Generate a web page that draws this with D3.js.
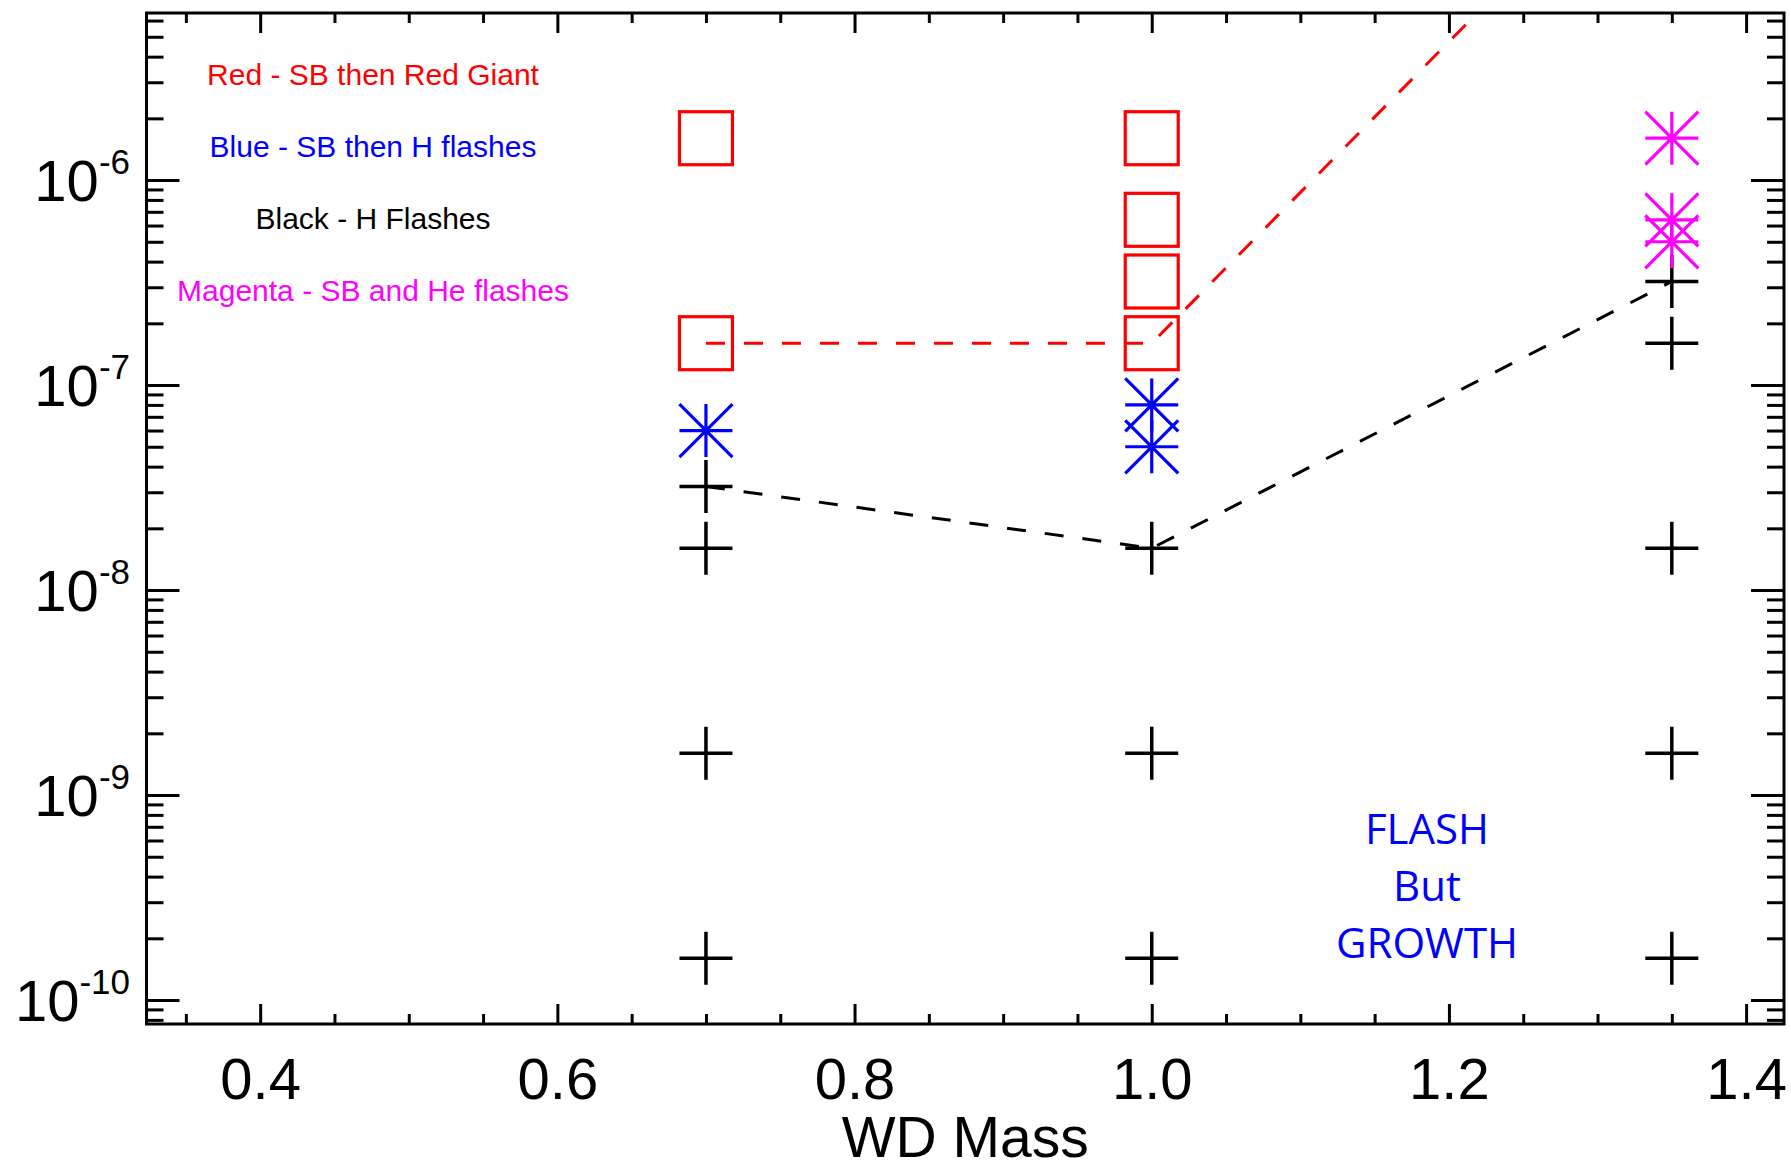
<!DOCTYPE html>
<html>
<head>
<meta charset="utf-8">
<script src="https://cdn.jsdelivr.net/npm/d3@7"></script>
<style>
  html, body { margin: 0; padding: 0; background: #fff; }
  svg { display: block; }
  .tick line { stroke: #000; stroke-width: 3; }
  .domain { display: none; }
</style>
</head>
<body>
<svg id="chart" width="1791" height="1169"></svg>
<script>
// ---- axis ticks ----
const xTickValues = [0.4, 0.6, 0.8, 1.0, 1.2, 1.4];
const xTickLabels = ["0.4", "0.6", "0.8", "1.0", "1.2", "1.4"];
const yTickExponents = [-10, -9, -8, -7, -6];
const yTickLabels = ["-10", "-9", "-8", "-7", "-6"];

// ---- red squares: SB then Red Giant ----
const redMass = [0.7, 0.7, 1.0, 1.0, 1.0, 1.0];
const redRate = [1.6e-7, 1.6e-6, 1.6e-7, 3.2e-7, 6.4e-7, 1.6e-6];

// ---- blue asterisks: SB then H flashes ----
const blueMass = [0.7, 1.0, 1.0];
const blueRate = [6.0e-8, 5.0e-8, 8.0e-8];

// ---- black pluses: H flashes ----
const blackMass = [0.7, 0.7, 0.7, 0.7, 1.0, 1.0, 1.0, 1.35, 1.35, 1.35, 1.35, 1.35];
const blackRate = [1.6e-10, 1.6e-9, 1.6e-8, 3.2e-8, 1.6e-10, 1.6e-9, 1.6e-8, 1.6e-10, 1.6e-9, 1.6e-8, 1.6e-7, 3.2e-7];

// ---- magenta asterisks: SB and He flashes ----
const magentaMass = [1.35, 1.35, 1.35];
const magentaRate = [5.0e-7, 6.4e-7, 1.6e-6];

// ---- dashed boundaries ----
const redLineMass = [0.7, 1.0, 1.35];
const redLineRate = [1.6e-7, 1.6e-7, 6.0e-5];
const blackLineMass = [0.7, 1.0, 1.35];
const blackLineRate = [3.2e-8, 1.6e-8, 3.2e-7];

// ---- annotations ----
const legendLines = ["Red - SB then Red Giant", "Blue - SB then H flashes", "Black - H Flashes", "Magenta - SB and He flashes"];
const legendColors = ["#ff0000", "#0000ff", "#000000", "#ff00ff"];
const noteLines = ["FLASH", "But", "GROWTH"];
const xTitle = "WD Mass";

const svg = d3.select("#chart");
const plot = { left: 146.5, right: 1784, top: 13, bottom: 1024 };

const x = d3.scaleLinear().domain([0.3235, 1.4255]).range([plot.left, plot.right]);
const y = d3.scaleLog().domain([Math.pow(10, -10.117), Math.pow(10, -5.185)]).range([plot.bottom, plot.top]);

const FONT = "'Liberation Sans', Arial, Helvetica, sans-serif";

// minor ticks
const xMinor = d3.range(7, 29).filter(k => k % 4 !== 0).map(k => k * 0.05);
const [yLo, yHi] = y.domain();
const yMinor = [];
for (let e = -11; e <= -5; e++) {
  for (let m = 2; m <= 9; m++) {
    const v = m * Math.pow(10, e);
    if (v >= yLo && v <= yHi) yMinor.push(v);
  }
}
const yMajor = yTickExponents.map(e => Math.pow(10, e));

// clip region for lines
svg.append("defs").append("clipPath").attr("id", "plotClip")
  .append("rect")
  .attr("x", plot.left).attr("y", plot.top)
  .attr("width", plot.right - plot.left).attr("height", plot.bottom - plot.top);

// ---- axes ----
// bottom
svg.append("g").attr("transform", `translate(0,${plot.bottom})`)
  .call(d3.axisBottom(x).tickValues(xMinor).tickSizeInner(-10).tickSizeOuter(0).tickFormat(""));
const xAxisG = svg.append("g").attr("transform", `translate(0,${plot.bottom})`)
  .call(d3.axisBottom(x).tickValues(xTickValues).tickSizeInner(-20).tickSizeOuter(0).tickPadding(34)
    .tickFormat((d, i) => xTickLabels[i]));
xAxisG.selectAll("text").attr("font-family", FONT).attr("font-size", 58).attr("fill", "#000");

// top
svg.append("g").attr("transform", `translate(0,${plot.top})`)
  .call(d3.axisTop(x).tickValues(xMinor).tickSizeInner(-10).tickSizeOuter(0).tickFormat(""));
svg.append("g").attr("transform", `translate(0,${plot.top})`)
  .call(d3.axisTop(x).tickValues(xTickValues).tickSizeInner(-20).tickSizeOuter(0).tickFormat(""));

// left
svg.append("g").attr("transform", `translate(${plot.left},0)`)
  .call(d3.axisLeft(y).tickValues(yMinor).tickSizeInner(-17).tickSizeOuter(0).tickFormat(""));
const yAxisG = svg.append("g").attr("transform", `translate(${plot.left},0)`)
  .call(d3.axisLeft(y).tickValues(yMajor).tickSizeInner(-33).tickSizeOuter(0).tickFormat(""));

// right
svg.append("g").attr("transform", `translate(${plot.right},0)`)
  .call(d3.axisRight(y).tickValues(yMinor).tickSizeInner(-17).tickSizeOuter(0).tickFormat(""));
svg.append("g").attr("transform", `translate(${plot.right},0)`)
  .call(d3.axisRight(y).tickValues(yMajor).tickSizeInner(-33).tickSizeOuter(0).tickFormat(""));

// power-of-ten labels on the left axis
yAxisG.selectAll(".tick").each(function (d, i) {
  const t = d3.select(this).append("text")
    .attr("x", -16.5).attr("y", 20)
    .attr("text-anchor", "end")
    .attr("font-family", FONT).attr("fill", "#000");
  t.append("tspan").attr("font-size", 58).text("10");
  t.append("tspan").attr("font-size", 35).attr("dy", -27).text(yTickLabels[i]);
});

// frame
svg.append("rect")
  .attr("x", plot.left).attr("y", plot.top)
  .attr("width", plot.right - plot.left).attr("height", plot.bottom - plot.top)
  .attr("fill", "none").attr("stroke", "#000").attr("stroke-width", 3);

// axis title
svg.append("text")
  .attr("x", (x(0.3235) + x(1.4255)) / 2).attr("y", 1157)
  .attr("text-anchor", "middle")
  .attr("font-family", FONT).attr("font-size", 57).attr("fill", "#000")
  .text(xTitle);

// ---- dashed boundary lines ----
const line = d3.line().x(d => x(d[0])).y(d => y(d[1]));
const linesG = svg.append("g").attr("clip-path", "url(#plotClip)");
linesG.append("path")
  .attr("d", line(redLineMass.map((m, i) => [m, redLineRate[i]])))
  .attr("fill", "none").attr("stroke", "#ff0000").attr("stroke-width", 3)
  .attr("stroke-dasharray", "19,19");
linesG.append("path")
  .attr("d", line(blackLineMass.map((m, i) => [m, blackLineRate[i]])))
  .attr("fill", "none").attr("stroke", "#000").attr("stroke-width", 3)
  .attr("stroke-dasharray", "19,19");

// ---- symbols ----
const H = 26.5;
const plusPath = `M${-H},0H${H}M0,${-H}V${H}`;
const starPath = plusPath + `M${-H},${-H}L${H},${H}M${-H},${H}L${H},${-H}`;

function drawPaths(mass, rate, pathD, color, width) {
  svg.append("g").selectAll("path")
    .data(mass.map((m, i) => [m, rate[i]]))
    .join("path")
    .attr("transform", d => `translate(${x(d[0])},${y(d[1])})`)
    .attr("d", pathD)
    .attr("fill", "none").attr("stroke", color).attr("stroke-width", width);
}

// red squares
svg.append("g").selectAll("rect")
  .data(redMass.map((m, i) => [m, redRate[i]]))
  .join("rect")
  .attr("x", d => x(d[0]) - H).attr("y", d => y(d[1]) - H)
  .attr("width", 2 * H).attr("height", 2 * H)
  .attr("fill", "none").attr("stroke", "#ff0000").attr("stroke-width", 3.2);

drawPaths(blackMass, blackRate, plusPath, "#000", 3.5);
drawPaths(blueMass, blueRate, starPath, "#0000ff", 3.2);
drawPaths(magentaMass, magentaRate, starPath, "#ff00ff", 3.2);

// ---- legend text ----
svg.append("g").selectAll("text")
  .data(legendLines)
  .join("text")
  .attr("x", 373).attr("y", (d, i) => 85 + i * 72)
  .attr("text-anchor", "middle")
  .attr("font-family", FONT).attr("font-size", 30)
  .attr("fill", (d, i) => legendColors[i])
  .text(d => d);

// ---- note ----
svg.append("g").selectAll("text")
  .data(noteLines)
  .join("text")
  .attr("x", 1427).attr("y", (d, i) => 844 + i * 57)
  .attr("text-anchor", "middle")
  .attr("font-family", "'Open Sans', 'Noto Sans', sans-serif").attr("font-size", 42)
  .attr("fill", "#0000ff")
  .text(d => d);
</script>
</body>
</html>
